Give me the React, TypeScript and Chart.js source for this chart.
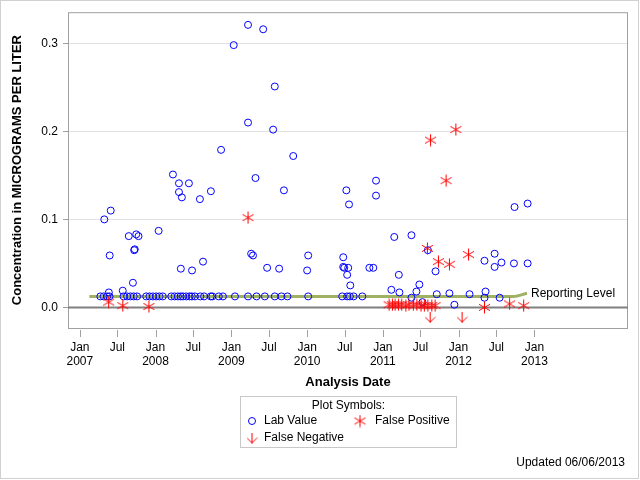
import React, { useEffect, useRef } from "react";
import { Chart, registerables } from "chart.js";
Chart.register(...registerables);

// ---------------- data ----------------
const labDates = [
  "2007-04-29", "2007-05-30", "2007-05-25", "2007-05-21", "2007-07-27", "2007-08-25", "2007-09-14",
  "2007-09-20", "2007-09-23", "2007-09-30", "2007-10-11", "2008-01-16", "2008-03-25", "2008-04-23",
  "2008-04-23", "2008-05-07", "2008-05-02", "2008-06-10", "2008-06-25", "2008-08-02", "2008-08-17",
  "2008-09-24", "2008-11-12", "2009-01-12", "2009-03-22", "2009-03-22", "2009-04-06", "2009-04-15",
  "2009-04-27", "2009-06-03", "2009-06-22", "2009-07-21", "2009-07-29", "2009-08-19", "2009-09-11",
  "2009-10-26", "2010-01-01", "2010-01-06", "2010-06-24", "2010-06-24", "2010-06-29", "2010-07-09",
  "2010-07-13", "2010-07-18", "2010-07-22", "2010-07-28", "2010-10-28", "2010-11-16", "2010-11-29",
  "2010-11-29", "2011-02-11", "2011-02-25", "2011-03-19", "2011-03-22", "2011-05-19", "2011-05-19",
  "2011-06-12", "2011-06-26", "2011-07-11", "2011-08-06", "2011-09-12", "2011-09-18", "2011-11-18",
  "2011-12-12", "2012-02-23", "2012-05-05", "2012-05-10", "2012-05-05", "2012-06-23", "2012-06-23",
  "2012-07-17", "2012-07-26", "2012-09-24", "2012-09-27", "2012-11-29", "2012-11-29",
  // results reported at the reporting level
  "2007-04-10", "2007-04-26", "2007-05-13", "2007-05-24", "2007-07-31", "2007-08-17", "2007-09-02",
  "2007-09-18", "2007-10-04", "2007-11-17", "2007-12-03", "2007-12-19", "2008-01-04", "2008-01-20",
  "2008-02-05", "2008-03-17", "2008-04-02", "2008-04-18", "2008-05-01", "2008-05-12", "2008-05-28",
  "2008-06-13", "2008-06-24", "2008-07-09", "2008-08-04", "2008-08-22", "2008-09-23", "2008-10-01",
  "2008-11-01", "2008-11-21", "2009-01-18", "2009-03-22", "2009-05-02", "2009-06-11", "2009-07-29",
  "2009-08-30", "2009-09-28", "2010-01-06", "2010-06-19", "2010-07-13", "2010-07-26", "2010-08-13",
  "2010-09-24",
];
const labValues = [
  0.100, 0.110, 0.059, 0.017, 0.019, 0.081, 0.028,
  0.065, 0.066, 0.083, 0.081, 0.087, 0.151, 0.141,
  0.131, 0.125, 0.044, 0.141, 0.042, 0.123, 0.052,
  0.132, 0.179, 0.298, 0.321, 0.210, 0.061, 0.059,
  0.147, 0.316, 0.045, 0.202, 0.251, 0.044, 0.133,
  0.172, 0.042, 0.059, 0.057, 0.046, 0.045, 0.133,
  0.037, 0.045, 0.117, 0.025, 0.045, 0.045, 0.144,
  0.127, 0.020, 0.080, 0.037, 0.017, 0.082, 0.011,
  0.018, 0.026, 0.006, 0.065, 0.041, 0.015, 0.016,
  0.003, 0.015, 0.053, 0.018, 0.011, 0.061, 0.046,
  0.011, 0.051, 0.050, 0.114, 0.118, 0.050,
  0.0125, 0.0125, 0.0125, 0.0125, 0.0125, 0.0125, 0.0125,
  0.0125, 0.0125, 0.0125, 0.0125, 0.0125, 0.0125, 0.0125,
  0.0125, 0.0125, 0.0125, 0.0125, 0.0125, 0.0125, 0.0125,
  0.0125, 0.0125, 0.0125, 0.0125, 0.0125, 0.0125, 0.0125,
  0.0125, 0.0125, 0.0125, 0.0125, 0.0125, 0.0125, 0.0125,
  0.0125, 0.0125, 0.0125, 0.0125, 0.0125, 0.0125, 0.0125,
  0.0125,
];

const falsePosDates = [
  "2007-05-20", "2007-07-27", "2007-11-30", "2009-03-22", "2011-08-04", "2011-08-19", "2011-09-26",
  "2011-11-02", "2011-11-18", "2011-12-19", "2012-02-18", "2012-05-05", "2012-09-03", "2012-11-10",
  "2011-01-31", "2011-02-16", "2011-03-01", "2011-03-17", "2011-04-02", "2011-04-22", "2011-05-07",
  "2011-05-28", "2011-06-14", "2011-07-04", "2011-07-20", "2011-08-06", "2011-08-25", "2011-09-10",
];
const falsePosValues = [
  0.006, 0.002, 0.001, 0.102, 0.067, 0.190, 0.052,
  0.144, 0.049, 0.202, 0.060, 0.000, 0.004, 0.002,
  0.003, 0.003, 0.003, 0.003, 0.003, 0.002, 0.003,
  0.003, 0.003, 0.002, 0.002, 0.002, 0.002, 0.002,
];

const falseNegDates = ["2011-08-17", "2012-01-18"];
const falseNegValues = [-0.011, -0.011];

const reportLevelDates = ["2007-02-16", "2012-09-21", "2012-11-26"];
const reportLevelValues = [0.0125, 0.0125, 0.016];

const xTickDates = [
  "2007-01-01", "2007-07-01", "2008-01-01", "2008-07-01", "2009-01-01", "2009-07-01", "2010-01-01",
  "2010-07-01", "2011-01-01", "2011-07-01", "2012-01-01", "2012-07-01", "2013-01-01",
];
const xTickLabels: (string | string[])[] = [
  ["Jan", "2007"], "Jul", ["Jan", "2008"], "Jul", ["Jan", "2009"], "Jul", ["Jan", "2010"],
  "Jul", ["Jan", "2011"], "Jul", ["Jan", "2012"], "Jul", ["Jan", "2013"],
];
const yTickValues = [0, 0.1, 0.2, 0.3];

const xMinDate = "2006-11-05";
const xMaxDate = "2014-03-28";
const yMin = -0.0234;
const yMax = 0.3354;

// ---------------- helpers ----------------
const FONT = "'Liberation Sans', Arial, Helvetica, sans-serif";
const t = (s: string) => Date.parse(s + "T00:00:00Z");
const pts = (d: string[], v: number[]) => d.map((s, i) => ({ x: t(s), y: v[i] }));

function makeStar(): HTMLCanvasElement {
  const c = document.createElement("canvas");
  c.width = 13;
  c.height = 13;
  const g = c.getContext("2d")!;
  g.strokeStyle = "#ff0000";
  g.lineWidth = 1;
  g.beginPath();
  g.moveTo(6.5, 0.5);
  g.lineTo(6.5, 12.5);
  g.moveTo(1.0, 3.3);
  g.lineTo(12.0, 9.7);
  g.moveTo(1.0, 9.7);
  g.lineTo(12.0, 3.3);
  g.stroke();
  return c;
}

function makeArrow(): HTMLCanvasElement {
  const c = document.createElement("canvas");
  c.width = 11;
  c.height = 11;
  const g = c.getContext("2d")!;
  g.strokeStyle = "#ff0000";
  g.lineWidth = 1;
  g.beginPath();
  g.moveTo(5.5, 0);
  g.lineTo(5.5, 10.5);
  g.moveTo(0.5, 5.5);
  g.lineTo(5.5, 10.5);
  g.lineTo(10.5, 5.5);
  g.stroke();
  return c;
}

export default function App() {
  const ref = useRef<HTMLCanvasElement | null>(null);

  useEffect(() => {
    const canvas = ref.current;
    if (!canvas) return;
    const star = makeStar();
    const arrow = makeArrow();

    const decor = {
      id: "decor",
      beforeDatasetsDraw(chart: any) {
        const { ctx, chartArea: a } = chart;
        ctx.save();
        ctx.strokeStyle = "#a0a0a0";
        ctx.lineWidth = 1;
        ctx.strokeRect(a.left + 0.5, a.top + 0.5, a.right - a.left - 1, a.bottom - a.top);
        ctx.restore();
      },
      afterDraw(chart: any) {
        const { ctx, chartArea: a, scales } = chart;
        const xs = scales.x;
        const ys = scales.y;
        ctx.save();
        // outer border
        ctx.strokeStyle = "#d0d0d0";
        ctx.lineWidth = 1;
        ctx.strokeRect(0.5, 0.5, 638, 478);
        // x tick marks
        ctx.strokeStyle = "#a0a0a0";
        ctx.beginPath();
        xTickDates.forEach((d) => {
          const px = Math.round(xs.getPixelForValue(t(d))) + 0.5;
          ctx.moveTo(px, a.bottom + 2);
          ctx.lineTo(px, a.bottom + 9);
        });
        ctx.stroke();
        // reporting level label
        const n = reportLevelDates.length - 1;
        const lx = xs.getPixelForValue(t(reportLevelDates[n]));
        const ly = ys.getPixelForValue(reportLevelValues[n]);
        ctx.fillStyle = "#000";
        ctx.font = `12px ${FONT}`;
        ctx.textBaseline = "middle";
        ctx.textAlign = "left";
        ctx.fillText("Reporting Level", lx + 4, ly + 0.5);
        // legend
        ctx.strokeStyle = "#c8c8c8";
        ctx.strokeRect(240.5, 396.5, 216, 51);
        ctx.textAlign = "center";
        ctx.fillText("Plot Symbols:", 348.5, 406);
        ctx.textAlign = "left";
        ctx.strokeStyle = "#0000ff";
        ctx.beginPath();
        ctx.arc(252, 421, 3.5, 0, Math.PI * 2);
        ctx.stroke();
        ctx.fillText("Lab Value", 264, 421);
        ctx.drawImage(star, 360 - 6.5, 421 - 6.5);
        ctx.fillText("False Positive", 375, 421);
        ctx.drawImage(arrow, 252 - 5.5, 438 - 5.5);
        ctx.fillText("False Negative", 264, 438);
        // updated note
        ctx.textAlign = "right";
        ctx.fillText("Updated 06/06/2013", 625, 463);
        ctx.restore();
      },
    };

    const chart = new Chart(canvas, {
      type: "scatter",
      data: {
        datasets: [
          {
            label: "False Positive",
            data: pts(falsePosDates, falsePosValues),
            pointStyle: star as any,
            pointRadius: 6,
            showLine: false,
          },
          {
            label: "False Negative",
            data: pts(falseNegDates, falseNegValues),
            pointStyle: arrow as any,
            pointRadius: 6,
            showLine: false,
          },
          {
            label: "Lab Value",
            data: pts(labDates, labValues),
            pointStyle: "circle",
            pointRadius: 3.5,
            borderWidth: 1,
            borderColor: "#0000ff",
            backgroundColor: "rgba(0,0,0,0)",
            showLine: false,
          },
          {
            label: "Reporting Level",
            data: pts(reportLevelDates, reportLevelValues),
            showLine: true,
            borderColor: "#9fb163",
            borderWidth: 3,
            pointRadius: 0,
            cubicInterpolationMode: "monotone",
            tension: 0.4,
          } as any,
          {
            label: "zero",
            data: [
              { x: t(xMinDate), y: 0 },
              { x: t(xMaxDate), y: 0 },
            ],
            showLine: true,
            borderColor: "#808080",
            borderWidth: 2,
            pointRadius: 0,
          },
        ],
      },
      options: {
        animation: false,
        responsive: false,
        devicePixelRatio: 1,
        layout: { padding: { left: 0, right: 12, top: 11, bottom: 88 } },
        plugins: { legend: { display: false }, tooltip: { enabled: false } },
        scales: {
          x: {
            type: "linear",
            min: t(xMinDate),
            max: t(xMaxDate),
            afterBuildTicks: (s: any) => {
              s.ticks = xTickDates.map((d) => ({ value: t(d) }));
            },
            afterFit: (s: any) => {
              s.height = 64;
            },
            grid: { display: false },
            border: { display: false },
            ticks: {
              autoSkip: false,
              maxRotation: 0,
              minRotation: 0,
              padding: 4.5,
              color: "#000",
              font: { size: 12, family: FONT },
              callback: (_v: any, i: number) => xTickLabels[i],
            },
            title: {
              display: true,
              text: "Analysis Date",
              color: "#000",
              font: { size: 13, weight: "bold", family: FONT },
              padding: { top: 0, bottom: 1.5 },
            },
          },
          y: {
            type: "linear",
            min: yMin,
            max: yMax,
            afterBuildTicks: (s: any) => {
              s.ticks = yTickValues.map((v) => ({ value: v }));
            },
            afterFit: (s: any) => {
              s.width = 68;
            },
            grid: {
              color: (c: any) => (c.tick && c.tick.value === 0 ? "rgba(0,0,0,0)" : "#e2e2e2"),
              tickColor: "#a0a0a0",
              tickLength: 5,
              drawTicks: true,
            },
            border: { display: false },
            ticks: {
              padding: 5,
              color: "#000",
              font: { size: 12, family: FONT },
              callback: (v: any) => Number(v).toFixed(1),
            },
            title: {
              display: true,
              text: "Concentration in MICROGRAMS PER LITER",
              color: "#000",
              font: { size: 13, weight: "bold", family: FONT },
              padding: { top: 10, bottom: 0 },
            },
          },
        },
      } as any,
      plugins: [decor],
    });
    return () => chart.destroy();
  }, []);

  return (
    <div style={{ position: "absolute", left: 0, top: 0, width: 640, height: 480, background: "#fff" }}>
      <canvas ref={ref} width={640} height={480} style={{ display: "block" }} />
    </div>
  );
}
